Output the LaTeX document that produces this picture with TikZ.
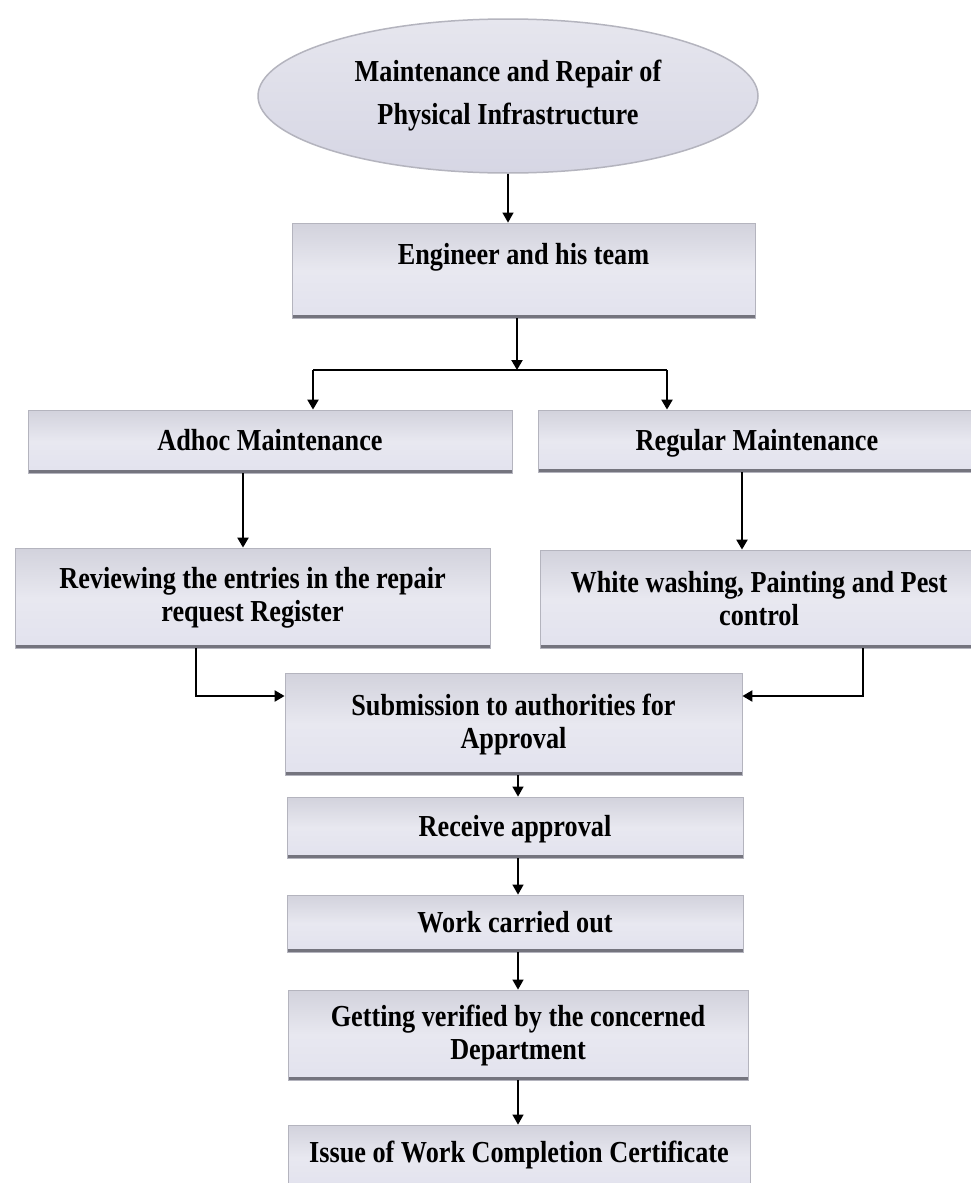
\documentclass[tikz,border=0pt]{standalone}
\usepackage{fontspec}
\setmainfont{Liberation Serif}[FakeStretch=0.86]
\usetikzlibrary{arrows.meta,shapes.geometric,calc}
\definecolor{boxtop}{HTML}{D2D2DC}
\definecolor{boxmid}{HTML}{E8E8F0}
\definecolor{boxbot}{HTML}{E2E2EE}
\definecolor{boxedge}{HTML}{B4B4BE}
\definecolor{boxshadow}{HTML}{74747E}
\definecolor{elltop}{HTML}{E6E6EE}
\definecolor{ellbot}{HTML}{D6D6E4}
\tikzset{
  flowbox/.style={rectangle, inner sep=0pt, align=center,
    top color=boxtop, bottom color=boxbot, middle color=boxmid,
    draw=boxedge, line width=0.8pt,
    font=\fontsize{30.5}{33}\selectfont\bfseries,
    path picture={\draw[boxshadow, line width=7pt]
      (path picture bounding box.south west) -- (path picture bounding box.south east);}},
  oneline/.style={text height=24pt, text depth=6pt},
  ovalbox/.style={ellipse, inner sep=0pt, align=center,
    top color=elltop, bottom color=ellbot, draw=boxedge, line width=1.5pt,
    font=\fontsize{30.5}{43}\selectfont\bfseries},
  thick connector/.style={line width=2.2pt, -{Triangle[length=10pt,width=11pt]}},
  thin connector/.style={line width=1.3pt, -{Triangle[length=10pt,width=11pt]}},
  plain connector/.style={line width=2.2pt},
}
\begin{document}
\begin{tikzpicture}[x=1pt,y=-1pt]
\useasboundingbox (0,0) rectangle (971,1183);
\fill[white] (0,0) rectangle (971,1183);

\node[ovalbox, minimum width=500, minimum height=154] (ell) at (508,96)
  {Maintenance and Repair of\\Physical Infrastructure};

\node[flowbox, minimum width=463, text height=41pt, text depth=54pt] (eng) at (523.5,270.5)
  {Engineer and his team};

\node[flowbox, oneline, minimum width=484, minimum height=63] (adhoc) at (270,441.5) {Adhoc Maintenance};
\node[flowbox, oneline, minimum width=438, minimum height=62] (regular) at (757,441) {Regular Maintenance};

\node[flowbox, minimum width=475, minimum height=100] (review) at (252.5,598)
  {Reviewing the entries in the repair\\request Register};
\node[flowbox, minimum width=438, minimum height=98] (white) at (759,599)
  {White washing, Painting and Pest\\control};

\node[flowbox, minimum width=457, minimum height=102] (submit) at (513.5,724)
  {Submission to authorities for\\Approval};
\node[flowbox, oneline, minimum width=456, minimum height=61] (receive) at (515,827.5) {Receive approval};
\node[flowbox, oneline, minimum width=456, minimum height=57] (work) at (515,923.5) {Work carried out};
\node[flowbox, minimum width=460, minimum height=90] (verify) at (518,1035)
  {Getting verified by the concerned\\Department};
\node[flowbox, minimum width=462, text height=37pt, text depth=28pt] (issue) at (519,1157.5)
  {Issue of Work Completion Certificate};

% coordinates
\coordinate (split) at (517,370);
\coordinate (splitL) at (313,370);
\coordinate (splitR) at (667,370);
\coordinate (joinL) at (196,696);
\coordinate (joinR) at (863,696);
\coordinate (colA) at (243,0);
\coordinate (colR) at (742,0);
\coordinate (colM) at (518,0);

% connectors
\draw[thin connector] (ell.south) -- (ell.south |- eng.north);
\draw[thick connector] (split |- eng.south) -- (split);
\draw[plain connector] (splitL) -- (splitR);
\draw[thick connector] (splitL) -- (splitL |- adhoc.north);
\draw[thick connector] (splitR) -- (splitR |- regular.north);
\draw[thick connector] (colA |- adhoc.south) -- (colA |- review.north);
\draw[thick connector] (colR |- regular.south) -- (colR |- white.north);
\draw[thick connector] (joinL |- review.south) -- (joinL) -- (joinL -| submit.west);
\draw[thick connector] (joinR |- white.south) -- (joinR) -- (joinR -| submit.east);
\draw[thin connector] (colM |- submit.south) -- (colM |- receive.north);
\draw[thin connector] (colM |- receive.south) -- (colM |- work.north);
\draw[thin connector] (colM |- work.south) -- (colM |- verify.north);
\draw[thin connector] (colM |- verify.south) -- (colM |- issue.north);
\end{tikzpicture}
\end{document}
